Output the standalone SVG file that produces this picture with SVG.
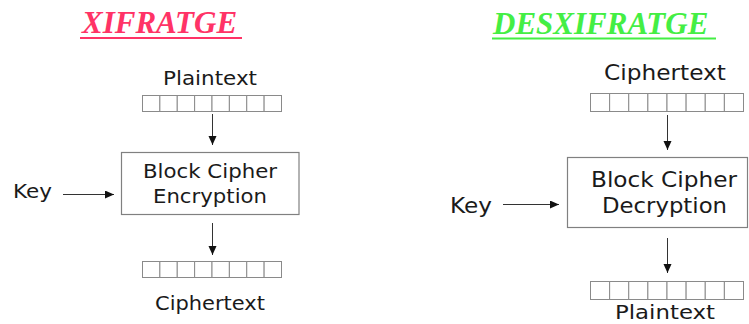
<svg xmlns="http://www.w3.org/2000/svg" width="749" height="324" viewBox="0 0 749 324">
<defs>
<style>
.t{font-family:"DejaVu Sans",sans-serif;fill:#1a1a1a;}
.title{font-family:"Liberation Serif",serif;font-weight:bold;font-style:italic;font-size:31px;}
.cell{fill:#fff;stroke:#8a8a8a;stroke-width:1;}
.box{fill:#fff;stroke:#808080;stroke-width:1.2;}
.con{stroke:#333;stroke-width:1;fill:none;marker-end:url(#ah);}
</style>
<marker id="ah" markerUnits="userSpaceOnUse" markerWidth="10" markerHeight="10" refX="9" refY="4" orient="auto">
<path d="M0,0 L9,4 L0,8 Z" fill="#111"/>
</marker>
<g id="row8s">
<rect class="cell" x="0" y="0" width="17.375" height="16"/>
<rect class="cell" x="17.375" y="0" width="17.375" height="16"/>
<rect class="cell" x="34.75" y="0" width="17.375" height="16"/>
<rect class="cell" x="52.125" y="0" width="17.375" height="16"/>
<rect class="cell" x="69.5" y="0" width="17.375" height="16"/>
<rect class="cell" x="86.875" y="0" width="17.375" height="16"/>
<rect class="cell" x="104.25" y="0" width="17.375" height="16"/>
<rect class="cell" x="121.625" y="0" width="17.375" height="16"/>
</g>
<g id="row8l">
<rect class="cell" x="0" y="0" width="19.125" height="18"/>
<rect class="cell" x="19.125" y="0" width="19.125" height="18"/>
<rect class="cell" x="38.25" y="0" width="19.125" height="18"/>
<rect class="cell" x="57.375" y="0" width="19.125" height="18"/>
<rect class="cell" x="76.5" y="0" width="19.125" height="18"/>
<rect class="cell" x="95.625" y="0" width="19.125" height="18"/>
<rect class="cell" x="114.75" y="0" width="19.125" height="18"/>
<rect class="cell" x="133.875" y="0" width="19.125" height="18"/>
</g>
</defs>
<rect width="749" height="324" fill="#fff"/>

<g id="title-left">
<text class="title" x="82" y="33" fill="#ff3366">XIFRATGE</text>
<line x1="80" y1="38" x2="242" y2="38" stroke="#ff3366" stroke-width="2"/>
</g>
<g id="title-right">
<text class="title" x="493" y="34" fill="#44ee44">DESXIFRATGE</text>
<line x1="492" y1="38.5" x2="716" y2="38.5" stroke="#44ee44" stroke-width="2"/>
</g>

<g id="enc-plaintext">
<text class="t" x="163" y="85" font-size="20" textLength="94" lengthAdjust="spacingAndGlyphs">Plaintext</text>
<use href="#row8s" x="142.5" y="95.5"/>
</g>
<g id="enc-box">
<rect class="box" x="121.5" y="152.5" width="177.5" height="62"/>
<text class="t" x="143" y="178" font-size="19" textLength="134" lengthAdjust="spacingAndGlyphs">Block Cipher</text>
<text class="t" x="153" y="203" font-size="19" textLength="114" lengthAdjust="spacingAndGlyphs">Encryption</text>
</g>
<g id="enc-key">
<text class="t" x="13" y="198" font-size="19" textLength="39" lengthAdjust="spacingAndGlyphs">Key</text>
</g>
<g id="enc-ciphertext">
<use href="#row8s" x="142.5" y="261.5"/>
<text class="t" x="155" y="310" font-size="19" textLength="110" lengthAdjust="spacingAndGlyphs">Ciphertext</text>
</g>

<g id="dec-ciphertext">
<text class="t" x="604" y="80" font-size="22" textLength="122" lengthAdjust="spacingAndGlyphs">Ciphertext</text>
<use href="#row8l" x="590.5" y="93.5"/>
</g>
<g id="dec-box">
<rect class="box" x="567.5" y="157.5" width="180" height="70"/>
<text class="t" x="591" y="187" font-size="20.5" textLength="146" lengthAdjust="spacingAndGlyphs">Block Cipher</text>
<text class="t" x="602" y="213" font-size="20.5" textLength="125" lengthAdjust="spacingAndGlyphs">Decryption</text>
</g>
<g id="dec-key">
<text class="t" x="450" y="213" font-size="22" textLength="42" lengthAdjust="spacingAndGlyphs">Key</text>
</g>
<g id="dec-plaintext">
<use href="#row8l" x="590.5" y="281.5"/>
<text class="t" x="615" y="319" font-size="20" textLength="100" lengthAdjust="spacingAndGlyphs">Plaintext</text>
</g>

<g id="connectors">
<line class="con" x1="212.5" y1="114" x2="212.5" y2="145"/>
<line class="con" x1="63" y1="194.5" x2="114" y2="194.5"/>
<line class="con" x1="212.5" y1="223" x2="212.5" y2="255"/>
<line class="con" x1="667.5" y1="115" x2="667.5" y2="150"/>
<line class="con" x1="503" y1="204.5" x2="559" y2="204.5"/>
<line class="con" x1="667.5" y1="238" x2="667.5" y2="273"/>
</g>
</svg>
